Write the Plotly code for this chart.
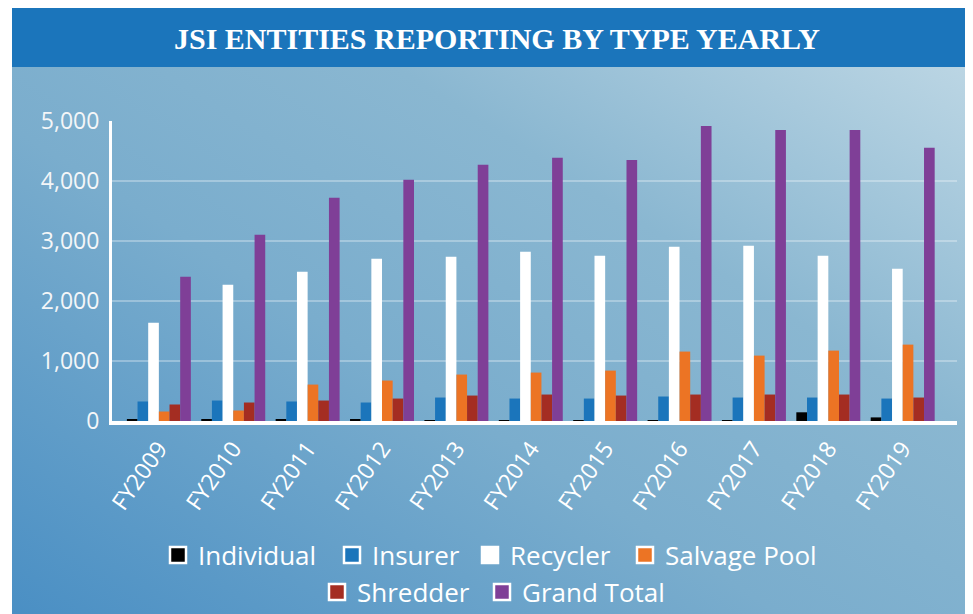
import base64
import plotly.graph_objects as go

years = ["FY2009", "FY2010", "FY2011", "FY2012", "FY2013", "FY2014",
         "FY2015", "FY2016", "FY2017", "FY2018", "FY2019"]
individual = [30, 25, 20, 18, 15, 15, 12, 10, 10, 145, 60]
insurer = [325, 341, 325, 308, 391, 374, 374, 408, 391, 391, 374]
recycler = [1639, 2272, 2488, 2705, 2738, 2821, 2754, 2904, 2921, 2754, 2538]
salvage_pool = [158, 175, 607, 674, 774, 807, 840, 1157, 1090, 1173, 1273]
shredder = [275, 308, 341, 374, 424, 441, 424, 441, 441, 441, 391]
grand_total = [2405, 3104, 3720, 4020, 4269, 4386, 4352, 4918, 4852, 4852, 4556]
y_ticks = [0, 1000, 2000, 3000, 4000, 5000]

series_names = ["Individual", "Insurer", "Recycler", "Salvage Pool", "Shredder", "Grand Total"]
series_values = [individual, insurer, recycler, salvage_pool, shredder, grand_total]
series_colors = ["#000000", "#1b75bb", "#ffffff", "#ec7424", "#a42d22", "#7f3f97"]

# legend placement in screen px (swatch left edge, row centre)
legend_pos = [(170, 555), (344, 555), (482, 555), (637, 555), (329, 592), (494, 592)]

OFF = 8  # page body margin offset
W, H = 973 - OFF, 614 - OFF
ML = 112 - OFF
MT = 121 - OFF
MR = 973 - 957
MB = H - (421 - OFF)
PW, PH = W - ML - MR, H - MT - MB


def px(x):
    return (x - OFF - ML) / PW


def py(y):
    return (H - MB - (y - OFF)) / PH


def cx(x):
    return (x - OFF) / W


def cy(y):
    return 1 - (y - OFF) / H


fig = go.Figure()
for name, vals, color in zip(series_names, series_values, series_colors):
    fig.add_trace(go.Bar(x=years, y=vals, name=name, marker_color=color,
                         marker_line_width=0, showlegend=False))

legends = {}
for i, (name, color, (lx, ly)) in enumerate(zip(series_names, series_colors, legend_pos)):
    key = "legend" if i == 0 else f"legend{i + 1}"
    fig.add_trace(go.Scatter(x=[None], y=[None], mode="markers", name=name,
                             marker=dict(symbol="square", size=16, color=color,
                                         line=dict(color="white", width=2.5)),
                             legend=key, showlegend=True))
    legends[key] = dict(orientation="h", xref="container", yref="container",
                        x=cx(lx - 12), xanchor="left",
                        y=cy(ly), yanchor="middle",
                        bgcolor="rgba(0,0,0,0)", borderwidth=0,
                        font=dict(size=26, color="white", family="Open Sans"))

svg = """<svg xmlns='http://www.w3.org/2000/svg' width='961' height='607' preserveAspectRatio='none'>
<defs><linearGradient id='g' x1='0' y1='1' x2='1' y2='0'>
<stop offset='0' stop-color='#4a8fc4'/>
<stop offset='0.4' stop-color='#7aadcd'/>
<stop offset='0.65' stop-color='#8ab7d1'/>
<stop offset='1' stop-color='#c4dbe7'/>
</linearGradient></defs>
<rect x='0' y='0' width='961' height='607' fill='url(#g)'/></svg>"""
src = "data:image/svg+xml;base64," + base64.b64encode(svg.encode()).decode()

fig.update_layout(
    width=W, height=H,
    margin=dict(l=ML, r=MR, t=MT, b=MB, pad=0, autoexpand=False),
    paper_bgcolor="white",
    plot_bgcolor="rgba(0,0,0,0)",
    barmode="group",
    bargap=0.14,
    bargroupgap=0,
    font=dict(family="Open Sans", color="white"),
    title=dict(text="JSI ENTITIES REPORTING BY TYPE YEARLY",
               x=cx(497), xanchor="center", xref="container",
               y=cy(38), yanchor="middle", yref="container",
               font=dict(family="Liberation Serif", size=30, color="white",
                         weight="bold")),
    images=[dict(source=src, xref="paper", yref="paper",
                 x=px(12), y=py(7), sizex=px(973) - px(12), sizey=py(7) - py(614),
                 xanchor="left", yanchor="top", sizing="stretch", layer="below")],
    shapes=[dict(type="rect", xref="paper", yref="paper",
                 x0=px(12), x1=px(973), y0=py(67), y1=py(7),
                 fillcolor="#1b75bb", line_width=0, layer="below")],
    xaxis=dict(range=[-0.63, 10.73], showline=True, linecolor="white", linewidth=4,
               showgrid=False, tickangle=-55, ticks="",
               ticklabelstandoff=1, tickfont=dict(size=23, color="white"),
               automargin=False, fixedrange=True),
    yaxis=dict(range=[0, 5000], tickvals=y_ticks, tickformat=",",
               showline=True, linecolor="white", linewidth=3,
               showgrid=True, gridcolor="rgba(255,255,255,0.3)", gridwidth=2,
               zeroline=False, ticks="outside", ticklen=5,
               tickcolor="rgba(0,0,0,0)", tickfont=dict(size=23, color="#f4f6f8"),
               automargin=False, fixedrange=True),
    **legends,
)

fig.write_html("out.html")
